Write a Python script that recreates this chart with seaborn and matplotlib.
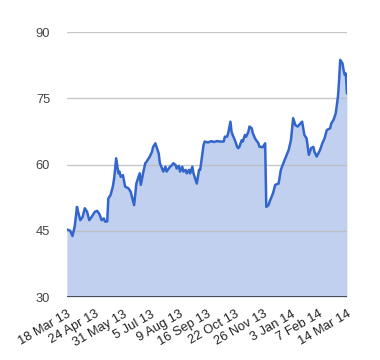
import numpy as np
import pandas as pd
import seaborn as sns
import matplotlib.pyplot as plt

# trading-day index and price
day = [0, 3, 5, 7, 9, 10, 12, 14, 16, 18, 20, 22, 25, 27, 29, 31, 33, 34, 36, 37,
       39, 41, 42, 43, 44, 46, 47, 48, 50, 52, 55, 57, 60, 61, 62, 65, 66, 68, 70, 71,
       74, 76, 77, 79, 80, 82, 83, 85, 86, 88, 89, 91, 92, 94, 95, 97, 98, 100, 101, 103,
       104, 106, 107, 109, 110, 112, 113, 115, 116, 118, 119, 121, 122, 123, 126, 129, 131, 134, 137, 140,
       141, 143, 144, 146, 147, 148, 150, 152, 153, 154, 156, 157, 159, 160, 162, 163, 165, 166, 168, 169,
       171, 172, 174, 175, 177, 178, 180, 181, 184, 186, 189, 191, 194, 198, 200, 202, 204, 206, 207, 210,
       211, 212, 214, 216, 218, 220, 221, 223, 226, 228, 230, 232, 235, 236, 238, 240, 242, 243, 244, 246,
       247, 248, 249, 250]
price = [45.3, 45.0, 43.8, 46.0, 50.4, 49.3, 47.4, 48.1, 50.1, 49.3, 47.4, 48.1, 49.3, 49.5, 48.8, 47.4, 47.8, 47.1, 47.1, 52.3,
         53.1, 55.0, 56.5, 58.8, 61.4, 58.0, 58.4, 57.2, 57.6, 55.0, 54.6, 53.8, 50.8, 53.1, 55.7, 58.0, 55.4, 58.0, 60.3, 60.6,
         61.8, 62.9, 64.0, 64.8, 64.0, 62.5, 60.3, 59.1, 58.4, 59.5, 58.4, 59.1, 59.5, 59.9, 60.3, 59.9, 59.1, 59.7, 58.4, 59.5,
         58.4, 58.8, 58.0, 58.8, 58.0, 59.5, 58.0, 56.5, 55.7, 58.8, 58.8, 62.5, 64.4, 65.2, 65.0, 65.3, 65.1, 65.3, 65.2, 65.2,
         66.3, 66.3, 67.1, 69.7, 67.4, 66.7, 65.5, 64.0, 63.7, 64.0, 65.5, 65.2, 66.7, 66.3, 67.4, 68.6, 68.2, 67.1, 65.9, 65.5,
         64.8, 64.0, 64.0, 63.9, 64.8, 50.4, 50.8, 51.6, 53.5, 55.4, 55.7, 58.8, 60.8, 63.3, 65.5, 70.5, 68.9, 68.6, 68.9, 69.7,
         68.2, 66.7, 65.9, 62.2, 63.7, 64.0, 62.9, 61.8, 63.3, 64.8, 65.9, 67.8, 68.2, 69.3, 70.1, 71.6, 75.4, 79.1, 83.7, 82.9,
         81.4, 80.3, 80.6, 76.1]

tick_days = [0, 25, 50, 75, 100, 125, 150, 175, 200, 225, 250]
tick_labels = ["18 Mar 13", "24 Apr 13", "31 May 13", "5 Jul 13", "9 Aug 13", "16 Sep 13",
               "22 Oct 13", "26 Nov 13", "3 Jan 14", "7 Feb 14", "14 Mar 14"]
y_ticks = [30, 45, 60, 75, 90]

df = pd.DataFrame({"day": day, "price": price})

sns.set_style("white")
plt.rcParams['font.family'] = ['Liberation Sans', 'DejaVu Sans']

fig = plt.figure(figsize=(3.8, 3.6), dpi=100)
ax = fig.add_axes([0.176, 0.175, 0.737, 0.736])

ax.fill_between(df["day"], 30, df["price"], color="#3366cc", alpha=0.3, linewidth=0, zorder=1)
sns.lineplot(data=df, x="day", y="price", ax=ax, color="#3366cc", linewidth=1.8, zorder=3)

ax.set_xlim(0, 250)
ax.set_ylim(30, 90)
ax.set_yticks(y_ticks)
for yv in y_ticks[1:]:
    ax.axhline(yv, color="#bbbbbb", linewidth=1, zorder=2, alpha=0.8)
ax.axhline(30, color="#333333", linewidth=1.2, zorder=4)

ax.set_xticks(tick_days)
ax.set_xticklabels(tick_labels, rotation=30, ha="right", rotation_mode="anchor")
ax.tick_params(axis="x", length=0, pad=8, labelsize=9.3, labelcolor="#222222")
ax.tick_params(axis="y", length=0, pad=12, labelsize=9.3, labelcolor="#444444")
ax.set_xlabel("")
ax.set_ylabel("")
for s in ax.spines.values():
    s.set_visible(False)

fig.savefig("out.png", dpi=100)
